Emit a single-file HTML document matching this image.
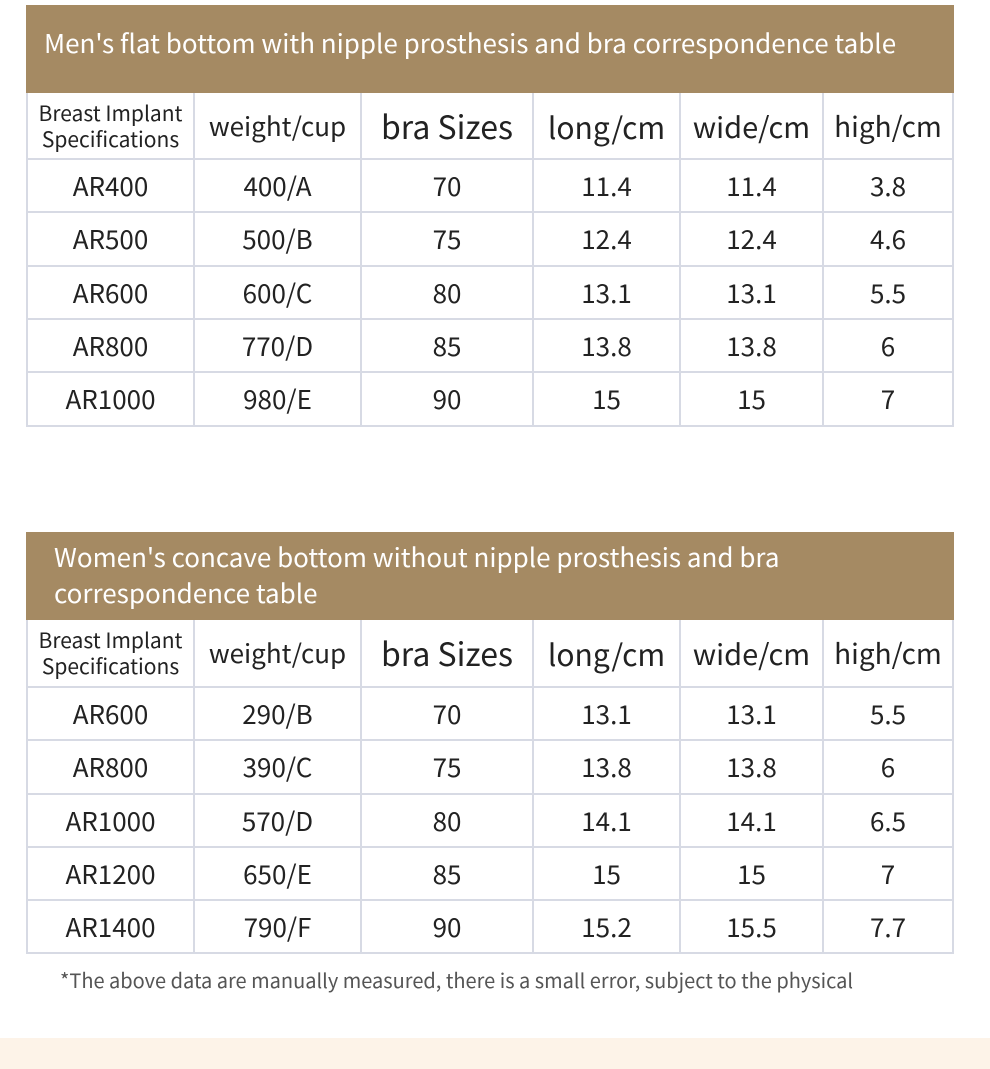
<!DOCTYPE html>
<html><head><meta charset="utf-8"><style>
body{margin:0;width:990px;height:1069px;background:#fff;position:relative;overflow:hidden;font-family:"Noto Sans CJK SC","Liberation Sans",sans-serif;color:#222}
.band{position:absolute;left:26px;width:928px;background:#a58a63;color:#fff;font-size:26px;box-sizing:border-box;line-height:36px}
.cell{position:absolute;box-sizing:border-box;border-right:2px solid #d7dae4;border-bottom:2px solid #d7dae4;display:flex;align-items:center;justify-content:center;font-size:26px;text-align:center;line-height:30px}
.foot{position:absolute;left:60px;top:966px;font-size:20px;color:#555;line-height:28px}
.bottom{position:absolute;left:0;top:1038px;width:990px;height:31px;background:#fdf3e8}
</style></head><body>
<div class="band" style="top:5px;height:88px;padding:20px 0 0 18px">Men's flat bottom with nipple prosthesis and bra correspondence table</div>
<div id="t1"></div>
<div class="band" style="top:532px;height:88px;padding:7px 0 0 28px">Women's concave bottom without nipple prosthesis and bra<br>correspondence table</div>
<div id="t2"></div>
<div class="foot">*The above data are manually measured, there is a small error, subject to the physical</div>
<div class="bottom"></div>
<script>
const cols=[26,195,362,534,681,824,954];
const headers=["Breast Implant<br>Specifications","weight/cup","bra Sizes","long/cm","wide/cm","high/cm"];
const hsize=[21,26,32,30,29,28];
const men=[["AR400","400/A","70","11.4","11.4","3.8"],["AR500","500/B","75","12.4","12.4","4.6"],["AR600","600/C","80","13.1","13.1","5.5"],["AR800","770/D","85","13.8","13.8","6"],["AR1000","980/E","90","15","15","7"]];
const women=[["AR600","290/B","70","13.1","13.1","5.5"],["AR800","390/C","75","13.8","13.8","6"],["AR1000","570/D","80","14.1","14.1","6.5"],["AR1200","650/E","85","15","15","7"],["AR1400","790/F","90","15.2","15.5","7.7"]];
function build(id,rows,rowY){
  const host=document.getElementById(id);
  const all=[headers].concat(rows);
  all.forEach((r,ri)=>{
    r.forEach((t,ci)=>{
      const d=document.createElement('div');
      
      
      d.className='cell';
      d.style.left=cols[ci]+'px';d.style.width=(cols[ci+1]-cols[ci])+'px';
      d.style.top=rowY[ri]+'px';d.style.height=(rowY[ri+1]-rowY[ri])+'px';
      if(ci==0)d.style.borderLeft='2px solid #d7dae4';
      if(ri==0){d.style.fontSize=hsize[ci]+'px';if(ci==0){d.style.lineHeight='26px';}}
      d.innerHTML=t;host.appendChild(d);
    });
  });
}
build('t1',men,[93,160,213,267,320,373,427]);
build('t2',women,[620,688,741,795,848,901,954]);
</script>
</body></html>
